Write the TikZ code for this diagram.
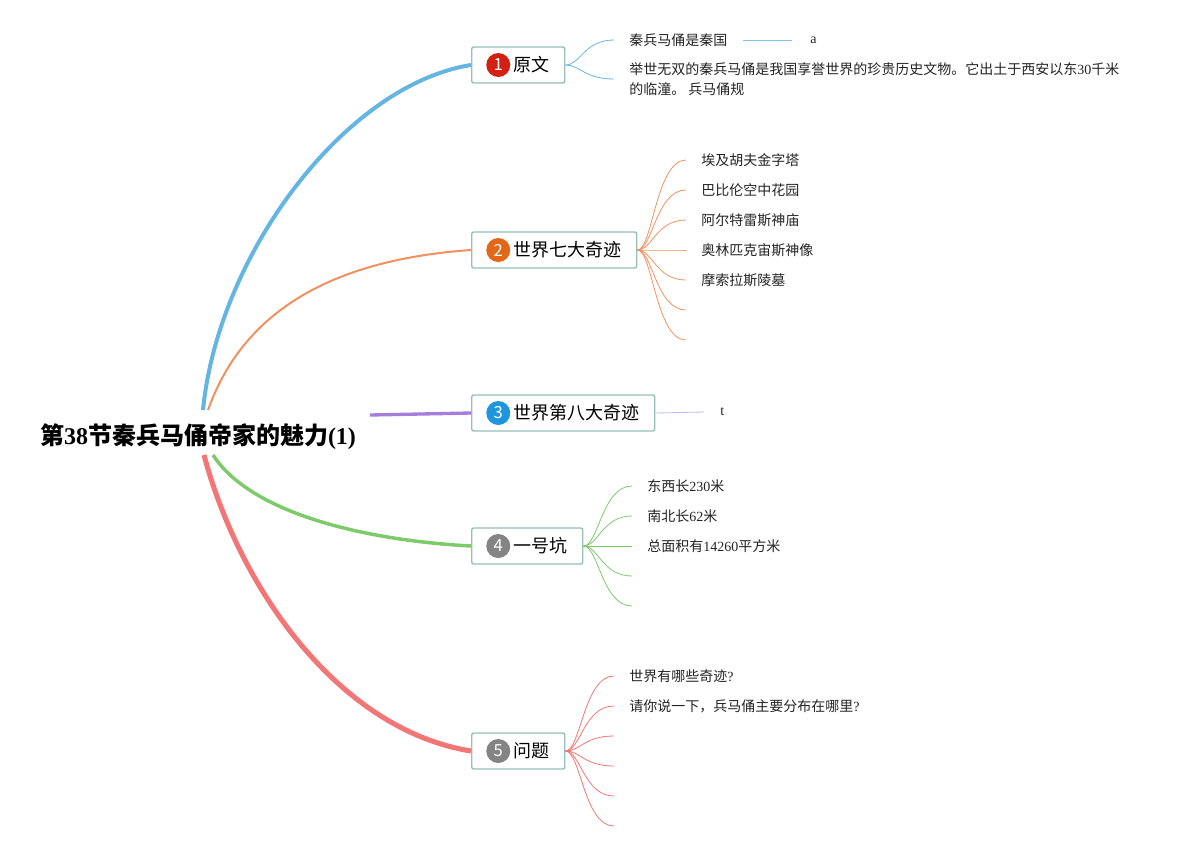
\documentclass[tikz,border=0pt]{standalone}
\usepackage{fontspec}
\setmainfont{Liberation Serif}
\newfontfamily\cjk{Noto Sans CJK SC}
\definecolor{branchblue}{RGB}{100,181,226}
\definecolor{branchorange}{RGB}{242,144,96}
\definecolor{branchpurple}{RGB}{164,126,220}
\definecolor{branchgreen}{RGB}{124,202,106}
\definecolor{branchred}{RGB}{242,118,118}
\definecolor{topicline}{RGB}{150,192,184}
\definecolor{badgered}{RGB}{210,32,18}
\definecolor{badgeorange}{RGB}{226,104,24}
\definecolor{badgeblue}{RGB}{30,150,222}
\definecolor{badgegrey}{RGB}{132,132,132}
\definecolor{leaftext}{RGB}{35,35,35}
\usetikzlibrary{positioning}

\begin{document}
\begin{tikzpicture}[x=0.75pt, y=-0.75pt,
    topic/.style={rectangle, rounded corners=1.5pt, draw=topicline, line width=1.1pt, fill=white, minimum height=27pt, inner xsep=11.25pt, anchor=west, font=\cjk\fontsize{13.5}{16}\selectfont},
    badge/.style={circle, inner sep=0pt, minimum size=18pt, text=white, font=\cjk\fontsize{12.5}{13}\selectfont},
    leaf/.style={inner sep=0pt, text=leaftext, font=\cjk\fontsize{10.5}{15}\selectfont},
    twig/.style={line width=0.6pt}]
    \useasboundingbox (0,0) rectangle (1189,851);

    % central topic
    \node[inner sep=0pt, font=\cjk\bfseries\fontsize{18}{20}\selectfont] (root) at (198,437) {第{\rmfamily 38}节秦兵马俑帝家的魅力{\rmfamily (1)}};
    \coordinate (rootA) at (203,410);
    \coordinate (rootB) at (208,410);
    \coordinate (rootC) at (370,415);
    \coordinate (rootD) at (213,455);
    \coordinate (rootE) at (204,455);

    % main topics
    \node[topic] (t1) at (471,65) {\hspace*{20.25pt}原文};
    \node[topic] (t2) at (471,250) {\hspace*{20.25pt}世界七大奇迹};
    \node[topic] (t3) at (471,413) {\hspace*{20.25pt}世界第八大奇迹};
    \node[topic] (t4) at (471,546) {\hspace*{20.25pt}一号坑};
    \node[topic] (t5) at (471,751) {\hspace*{20.25pt}问题};

    \node[badge, fill=badgered, right=11.25pt of t1.west] (b1) {1};
    \node[badge, fill=badgeorange, right=11.25pt of t2.west] (b2) {2};
    \node[badge, fill=badgeblue, right=11.25pt of t3.west] (b3) {3};
    \node[badge, fill=badgegrey, right=11.25pt of t4.west] (b4) {4};
    \node[badge, fill=badgegrey, right=11.25pt of t5.west] (b5) {5};

    \draw[line width=3pt, branchblue] (rootA) .. controls (218,255) and (345,85) .. (t1.west);
    \draw[line width=1.5pt, branchorange] (rootB) .. controls (235,335) and (300,262) .. (t2.west);
    \draw[line width=2.5pt, branchpurple] (rootC) -- (t3.west);
    \draw[line width=2.6pt, branchgreen] (rootD) .. controls (250,512) and (360,540) .. (t4.west);
    \draw[line width=3.8pt, branchred] (rootE) .. controls (240,590) and (340,730) .. (t5.west);

    % 原文
    \coordinate (y1) at (614,40);
    \coordinate (y2) at (614,79);
    \foreach \c in {y1,y2}
        \draw[twig, branchblue] (t1.east) .. controls +(15,0) and +(-30,0) .. (\c);
    \node[leaf, right=11.25pt of y1] (yw1) {秦兵马俑是秦国};
    \node[leaf, right=11.25pt of y2, align=left] (yw2) {举世无双的秦兵马俑是我国享誉世界的珍贵历史文物。它出土于西安以东{\rmfamily 30}千米\\的临潼。 兵马俑规};
    \coordinate (ya) at (792,40);
    \draw[twig, branchblue!80] ([xshift=11.25pt]yw1.east) -- (ya);
    \node[leaf, font=\fontsize{10.5}{12}\selectfont, right=13.5pt of ya] (yaw) {a};

    % 世界七大奇迹
    \foreach \i in {1,...,7} {
        \coordinate (w\i) at (686,130+30*\i);
        \draw[twig, branchorange] (t2.east) .. controls +(15,0) and +(-30,0) .. (w\i);
    }
    \node[leaf, right=11.25pt of w1] (ww1) {埃及胡夫金字塔};
    \node[leaf, right=11.25pt of w2] (ww2) {巴比伦空中花园};
    \node[leaf, right=11.25pt of w3] (ww3) {阿尔特雷斯神庙};
    \node[leaf, right=11.25pt of w4] (ww4) {奥林匹克宙斯神像};
    \node[leaf, right=11.25pt of w5] (ww5) {摩索拉斯陵墓};

    % 世界第八大奇迹
    \coordinate (e1) at (704,412);
    \draw[twig, branchpurple!60] (t3.east) -- (e1);
    \node[leaf, font=\fontsize{10.5}{12}\selectfont, right=12pt of e1] (ew1) {t};

    % 一号坑
    \foreach \i in {1,...,5} {
        \coordinate (k\i) at (632,456+30*\i);
        \draw[twig, branchgreen] (t4.east) .. controls +(15,0) and +(-30,0) .. (k\i);
    }
    \node[leaf, right=11.25pt of k1] (kw1) {东西长{\rmfamily 230}米};
    \node[leaf, right=11.25pt of k2] (kw2) {南北长{\rmfamily 62}米};
    \node[leaf, right=11.25pt of k3] (kw3) {总面积有{\rmfamily 14260}平方米};

    % 问题
    \foreach \i in {1,...,6} {
        \coordinate (q\i) at (614,646+30*\i);
        \draw[twig, branchred] (t5.east) .. controls +(15,0) and +(-30,0) .. (q\i);
    }
    \node[leaf, right=11.25pt of q1] (qw1) {世界有哪些奇迹{\rmfamily ?}};
    \node[leaf, right=11.25pt of q2] (qw2) {请你说一下，兵马俑主要分布在哪里{\rmfamily ?}};
\end{tikzpicture}
\end{document}
